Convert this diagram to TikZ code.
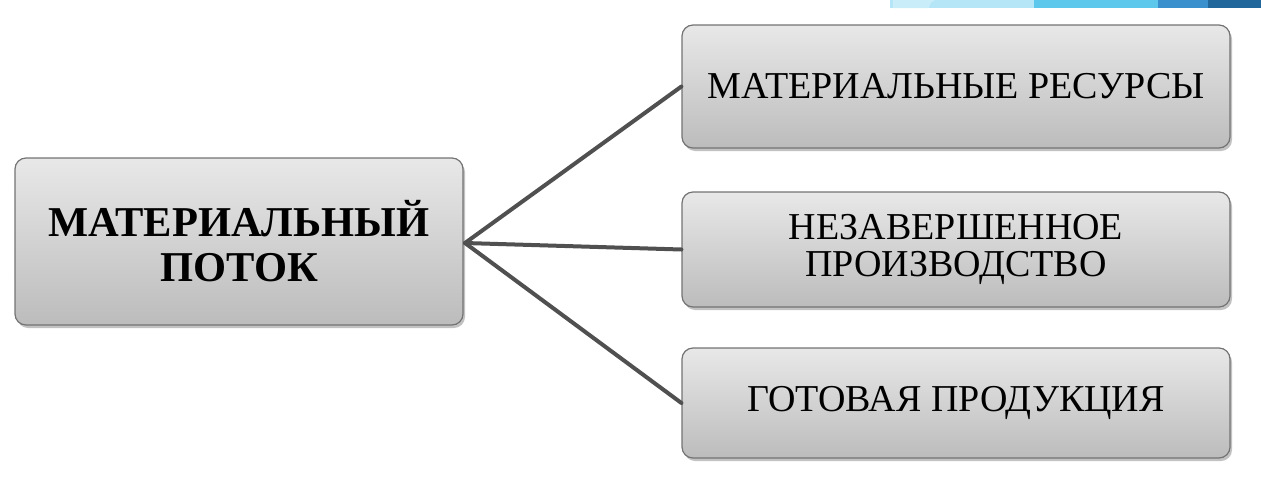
\documentclass[tikz,border=0pt]{standalone}
\usepackage{fontspec}
\setmainfont{Liberation Serif}
\usetikzlibrary{shadows}
\definecolor{boxtop}{HTML}{E8E8E8}
\definecolor{boxbot}{HTML}{BCBCBC}
\definecolor{boxline}{HTML}{737373}
\definecolor{conn}{HTML}{505050}
\definecolor{blueA}{HTML}{B5E6F7}
\definecolor{blueA2}{HTML}{C9EEFA}
\definecolor{blueB}{HTML}{5DC8EC}
\definecolor{blueC}{HTML}{3A90CC}
\definecolor{blueD}{HTML}{22679B}
\tikzset{
  gbox/.style={draw=boxline, line width=1.2pt, rounded corners=11pt,
    top color=boxtop, bottom color=boxbot, inner sep=0pt, align=center,
    drop shadow={shadow xshift=2pt, shadow yshift=-3pt, opacity=0.4, fill=black!60}},
  small/.style={font=\fontsize{38}{37}\selectfont},
  link/.style={draw=conn, line width=4pt, line cap=round}
}
\begin{document}
\begin{tikzpicture}[x=1pt,y=-1pt]
\useasboundingbox (0,0) rectangle (1261,485);
% top-right blue band
\fill[blueA] (890,0) rectangle (1036,8);
\fill[blueA2] (893,0) -- (935,0) .. controls (930,3) .. (929,8) -- (893,8) -- cycle;
\fill[blueB] (1034,0) rectangle (1158,8);
\fill[blueC] (1158,0) rectangle (1208,8);
\fill[blueD] (1208,0) rectangle (1261,8);
% boxes
\node[gbox, minimum width=448pt, minimum height=167pt,
  font=\fontsize{42.5}{45}\selectfont\bfseries] (main) at (239,241.5)
  {МАТЕРИАЛЬНЫЙ\\ПОТОК};
\node[gbox, small, minimum width=548pt, minimum height=123pt] (res) at (956,86.5)
  {МАТЕРИАЛЬНЫЕ РЕСУРСЫ};
\node[gbox, small, minimum width=548pt, minimum height=115pt] (wip) at (956,249.5)
  {НЕЗАВЕРШЕННОЕ\\ПРОИЗВОДСТВО};
\node[gbox, small, minimum width=548pt, minimum height=110pt] (fin) at (956,403)
  {ГОТОВАЯ ПРОДУКЦИЯ};
% connectors
\coordinate (hub) at (465,243);
\draw[link] (hub) -- (res.west);
\draw[link] (hub) -- (wip.west);
\draw[link] (hub) -- (fin.west);
\end{tikzpicture}
\end{document}
